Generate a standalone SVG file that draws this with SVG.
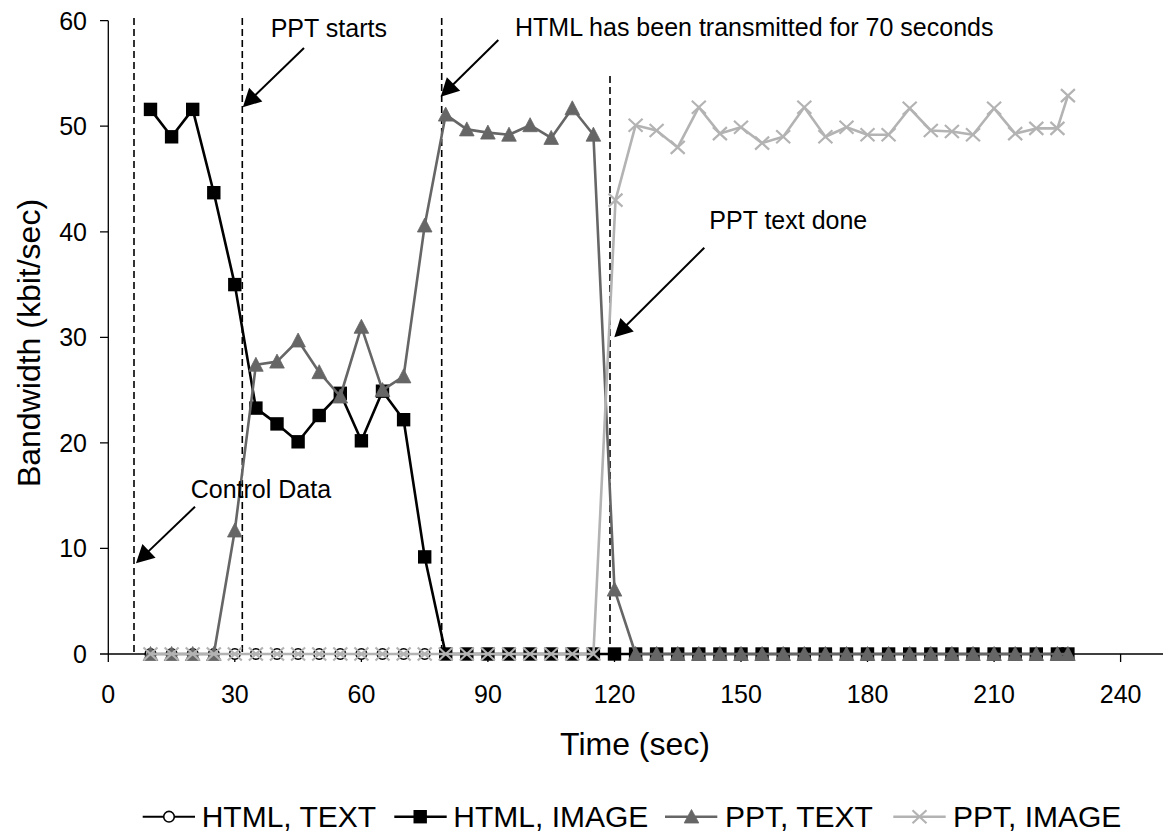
<svg xmlns="http://www.w3.org/2000/svg" width="1165" height="836" viewBox="0 0 1165 836">
<style>
text{font-family:"Liberation Sans",Arial,sans-serif;fill:#000}
.tick{font-size:25px}
.ytick{text-anchor:end}
.xtick{text-anchor:middle}
.title{font-size:32px}
.ann{font-size:25px}
.leg{font-size:30px}
.axis{stroke:#000;stroke-width:1.3;fill:none}
.dash{stroke:#000;stroke-width:1.6;stroke-dasharray:7 4;fill:none}
.arrow{stroke:#000;stroke-width:2;fill:none;marker-end:url(#ah)}
.s1{stroke:#000;stroke-width:2;fill:none;stroke-linejoin:round}
.s2{stroke:#000;stroke-width:2.6;fill:none;stroke-linejoin:round}
.s3{stroke:#666;stroke-width:2.6;fill:none;stroke-linejoin:round}
.s4{stroke:#b3b3b3;stroke-width:2.6;fill:none;stroke-linejoin:round}
</style>
<defs>
<marker id="ah" markerUnits="userSpaceOnUse" orient="auto" refX="0" refY="0" markerWidth="30" markerHeight="30" overflow="visible">
<path d="M10,0 L-8,-9.5 L-8,9.5 Z" fill="#000"/>
</marker>
<marker id="mc" markerUnits="userSpaceOnUse" refX="0" refY="0" markerWidth="20" markerHeight="20" overflow="visible">
<circle cx="0" cy="0" r="5.3" fill="#fff" stroke="#000" stroke-width="1.6"/>
</marker>
<marker id="ms" markerUnits="userSpaceOnUse" refX="0" refY="0" markerWidth="20" markerHeight="20" overflow="visible">
<rect x="-6.7" y="-6.7" width="13.4" height="13.4" fill="#000"/>
</marker>
<marker id="mt" markerUnits="userSpaceOnUse" refX="0" refY="0" markerWidth="20" markerHeight="20" overflow="visible">
<polygon points="0,-7.5 7.3,6.5 -7.3,6.5" fill="#666" stroke="#666" stroke-width="0.8" stroke-linejoin="round"/>
</marker>
<marker id="mx" markerUnits="userSpaceOnUse" refX="0" refY="0" markerWidth="20" markerHeight="20" overflow="visible">
<path d="M-7,-6.5 L7,6.5 M-7,6.5 L7,-6.5" stroke="#b3b3b3" stroke-width="2.2" fill="none"/>
</marker>
</defs>
<rect width="1165" height="836" fill="#fff"/>

<g id="axes">
<path class="axis" d="M108.3,20.7 V654 M100,20.7 H108.3 M100,126.2 H108.3 M100,231.8 H108.3 M100,337.3 H108.3 M100,442.9 H108.3 M100,548.4 H108.3 M100,654 H1163 M108.3,654 V662 M234.8,654 V662 M361.4,654 V662 M487.9,654 V662 M614.5,654 V662 M741,654 V662 M867.5,654 V662 M994.1,654 V662 M1120.6,654 V662"/>
<g class="tick ytick">
<text x="87" y="29.7">60</text>
<text x="87" y="135.2">50</text>
<text x="87" y="240.8">40</text>
<text x="87" y="346.3">30</text>
<text x="87" y="451.9">20</text>
<text x="87" y="557.4">10</text>
<text x="87" y="663">0</text>
</g>
<g class="tick xtick">
<text x="108.3" y="703">0</text>
<text x="234.8" y="703">30</text>
<text x="361.4" y="703">60</text>
<text x="487.9" y="703">90</text>
<text x="614.5" y="703">120</text>
<text x="741" y="703">150</text>
<text x="867.5" y="703">180</text>
<text x="994.1" y="703">210</text>
<text x="1120.6" y="703">240</text>
</g>
<text class="title" x="635" y="755" text-anchor="middle">Time (sec)</text>
<text class="title" transform="translate(40,343) rotate(-90)" text-anchor="middle">Bandwidth (kbit/sec)</text>
</g>

<g id="guides">
<path class="dash" d="M134,18 V654 M242.3,18 V654 M441.7,18 V654 M610,76 V654"/>
</g>

<g id="series">
<polyline id="html-text" class="s1" marker-start="url(#mc)" marker-mid="url(#mc)" marker-end="url(#mc)" points="150.5,654 171.6,654 192.7,654 213.8,654 234.8,654 255.9,654 277,654 298.1,654 319.2,654 340.3,654 361.4,654 382.5,654 403.6,654 424.7,654 445.7,654 466.8,654 487.9,654 509,654 530.1,654 551.2,654 572.3,654 593.4,654 614.5,654 635.6,654 656.6,654 677.7,654 698.8,654 719.9,654 741,654 762.1,654 783.2,654 804.3,654 825.4,654 846.5,654 867.5,654 888.6,654 909.7,654 930.8,654 951.9,654 973,654 994.1,654 1015.2,654 1036.3,654 1057.4,654 1067.9,654"/>
<polyline id="html-image" class="s2" marker-start="url(#ms)" marker-mid="url(#ms)" marker-end="url(#ms)" points="150.5,109.4 171.6,136.8 192.7,109.4 213.8,192.7 234.8,284.6 255.9,408.1 277,423.9 298.1,441.8 319.2,415.5 340.3,393.3 361.4,440.8 382.5,391.2 403.6,419.7 424.7,556.9 445.7,654 466.8,654 487.9,654 509,654 530.1,654 551.2,654 572.3,654 593.4,654 614.5,654 635.6,654 656.6,654 677.7,654 698.8,654 719.9,654 741,654 762.1,654 783.2,654 804.3,654 825.4,654 846.5,654 867.5,654 888.6,654 909.7,654 930.8,654 951.9,654 973,654 994.1,654 1015.2,654 1036.3,654 1057.4,654 1067.9,654"/>
<polyline id="ppt-text" class="s3" marker-start="url(#mt)" marker-mid="url(#mt)" marker-end="url(#mt)" points="150.5,654 171.6,654 192.7,654 213.8,654 234.8,530.5 255.9,364.8 277,361.6 298.1,340.5 319.2,372.2 340.3,396.5 361.4,326.8 382.5,390.1 403.6,376.4 424.7,225.5 445.7,114.6 466.8,129.4 487.9,132.6 509,134.7 530.1,125.2 551.2,137.9 572.3,108.3 593.4,134.7 614.5,589.6 635.6,654 656.6,654 677.7,654 698.8,654 719.9,654 741,654 762.1,654 783.2,654 804.3,654 825.4,654 846.5,654 867.5,654 888.6,654 909.7,654 930.8,654 951.9,654 973,654 994.1,654 1015.2,654 1036.3,654 1057.4,654 1067.9,654"/>
<polyline id="ppt-image" class="s4" marker-start="url(#mx)" marker-mid="url(#mx)" marker-end="url(#mx)" points="150.5,654 171.6,654 192.7,654 213.8,654 234.8,654 255.9,654 277,654 298.1,654 319.2,654 340.3,654 361.4,654 382.5,654 403.6,654 424.7,654 445.7,654 466.8,654 487.9,654 509,654 530.1,654 551.2,654 572.3,654 593.4,654 615.5,200.1 635.6,125.2 656.6,130.5 677.7,147.4 698.8,107.2 719.9,133.6 741,127.3 762.1,143.1 783.2,136.8 804.3,107.2 825.4,136.8 846.5,127.3 867.5,134.7 888.6,134.7 909.7,108.3 930.8,130.5 951.9,131.5 973,134.7 994.1,108.3 1015.2,133.6 1036.3,128.4 1057.4,128.4 1067.9,95.6"/>
</g>

<g id="annotations">
<g id="ann-control">
<text class="ann" x="190.7" y="498.3">Control Data</text>
<line class="arrow" x1="195" y1="506.7" x2="143.2" y2="556.4"/>
</g>
<g id="ann-ppt-starts">
<text class="ann" x="270.7" y="37">PPT starts</text>
<line class="arrow" x1="304" y1="48" x2="250" y2="100.2"/>
</g>
<g id="ann-html">
<text class="ann" x="515" y="36">HTML has been transmitted for 70 seconds</text>
<line class="arrow" x1="498.3" y1="40" x2="447.8" y2="89.7"/>
</g>
<g id="ann-ppt-done">
<text class="ann" x="709.3" y="229.3">PPT text done</text>
<line class="arrow" x1="704.3" y1="247.7" x2="621.4" y2="330.3"/>
</g>
</g>

<g id="legend">
<g id="leg-html-text">
<line x1="142.7" y1="816.7" x2="195" y2="816.7" stroke="#000" stroke-width="2"/>
<circle cx="169" cy="816.7" r="5.3" fill="#fff" stroke="#000" stroke-width="1.6"/>
<text class="leg" x="201.7" y="826.7">HTML, TEXT</text>
</g>
<g id="leg-html-image">
<line x1="394.3" y1="816.7" x2="446.7" y2="816.7" stroke="#000" stroke-width="2.4"/>
<rect x="413.5" y="810" width="13.4" height="13.4" fill="#000"/>
<text class="leg" x="453.3" y="826.7">HTML, IMAGE</text>
</g>
<g id="leg-ppt-text">
<line x1="665" y1="816.7" x2="717.3" y2="816.7" stroke="#666" stroke-width="2.4"/>
<polygon points="691.5,809.5 698.8,823 684.2,823" fill="#666" stroke="#666" stroke-width="0.8"/>
<text class="leg" x="725" y="826.7">PPT, TEXT</text>
</g>
<g id="leg-ppt-image">
<line x1="893.3" y1="816.7" x2="945.7" y2="816.7" stroke="#b3b3b3" stroke-width="2.4"/>
<path d="M912.5,810.2 L926.5,823.2 M912.5,823.2 L926.5,810.2" stroke="#b3b3b3" stroke-width="2.2"/>
<text class="leg" x="953" y="826.7">PPT, IMAGE</text>
</g>
</g>
</svg>
